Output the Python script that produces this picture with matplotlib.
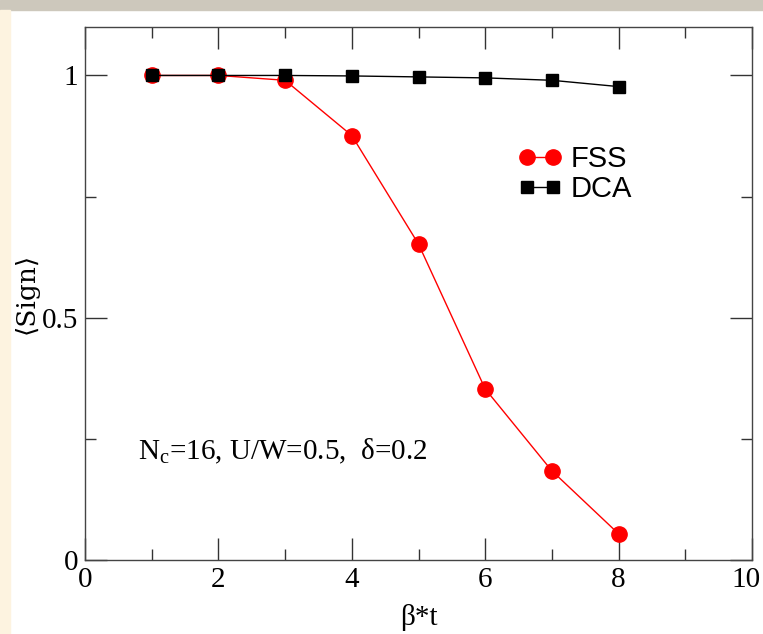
import numpy as np
import matplotlib.pyplot as plt
from matplotlib.ticker import MultipleLocator
import matplotlib.patches as mpatches
import matplotlib.transforms as mtransforms

beta_t = [1, 2, 3, 4, 5, 6, 7, 8]
fss = [1.0, 1.0, 0.99, 0.876, 0.652, 0.353, 0.184, 0.054]
dca = [1.0, 1.0, 1.0, 0.999, 0.997, 0.995, 0.99, 0.977]
xticks = [0, 2, 4, 6, 8, 10]
yticks = [0, 0.5, 1]
ytick_labels = ['0', '0.5', '1']

fig = plt.figure(figsize=(7.63, 6.34), dpi=100)
# slide-like background strips
fig.patches.append(mpatches.Rectangle((0, 0.985), 1, 0.015, transform=fig.transFigure,
                                      color='#cdc8bc', zorder=0))
fig.patches.append(mpatches.Rectangle((0, 0), 0.013, 0.985, transform=fig.transFigure,
                                      color='#fdf3e0', zorder=0))

ax = fig.add_axes([85/763, 1 - 560/634, 667/763, 533/634])

ax.plot(beta_t, fss, '-o', color='red', lw=1, ms=11, label='FSS')
ax.plot(beta_t, dca, '-s', color='black', lw=1, ms=9, label='DCA')

ax.set_xlim(0, 10)
ax.set_ylim(0, 1.1)
ax.set_xticks(xticks)
ax.set_xticklabels([str(v) for v in xticks], family='Liberation Serif')
ax.xaxis.set_minor_locator(MultipleLocator(1))
ax.set_yticks(yticks)
ax.set_yticklabels(ytick_labels, family='Liberation Serif')
ax.yaxis.set_minor_locator(MultipleLocator(0.25))
ax.tick_params(which='both', direction='in', top=True, right=True, width=1, colors='#333333',
               labelcolor='black')
ax.tick_params(which='major', length=16, labelsize=21, pad=5)
ax.tick_params(which='minor', length=8)
for s in ax.spines.values():
    s.set_color('#444444')
    s.set_linewidth(1)

# keep the last x label inside the figure edge
last = ax.get_xticklabels()[-1]
last.set_transform(last.get_transform() +
                   mtransforms.ScaledTranslation(-6/100, 0, fig.dpi_scale_trans))

ax.set_xlabel('β*t', family='Liberation Serif', fontsize=21, labelpad=8)
ax.set_ylabel('⟨Sign⟩', family=['DejaVu Serif'], fontsize=19, labelpad=2)

ax.text(0.08, 0.19, r'N$_\mathregular{c}$=16, U/W=0.5,  δ=0.2', transform=ax.transAxes,
        family='Liberation Serif', fontsize=21)

leg = ax.legend(loc='upper left', bbox_to_anchor=(0.61, 0.827), frameon=False,
                numpoints=2, handlelength=1.5, handletextpad=0.3, labelspacing=0.05,
                prop={'family': 'Liberation Sans', 'size': 21})

fig.savefig('out.png', dpi=100)
